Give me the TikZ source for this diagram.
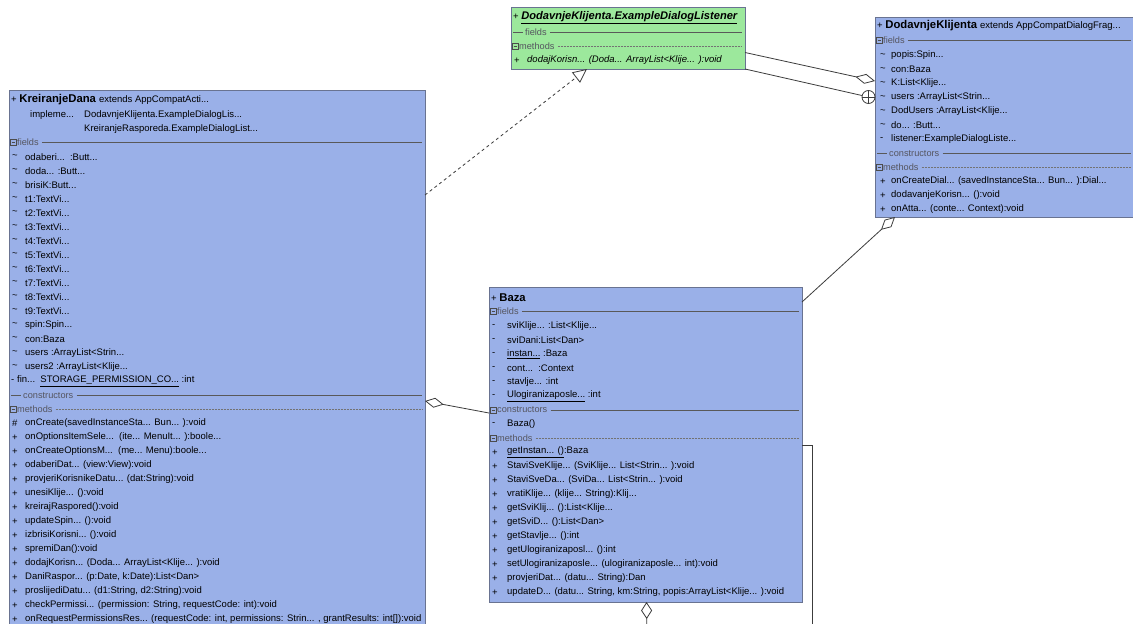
\documentclass[tikz,border=0pt]{standalone}
\usepackage{fontspec}
\setmainfont{Liberation Sans}
\usetikzlibrary{arrows.meta}
\definecolor{umlblue}{RGB}{154,176,232}
\definecolor{umlgreen}{RGB}{156,232,156}
\definecolor{umledge}{RGB}{105,115,145}
\definecolor{hdrgray}{RGB}{85,85,95}
\definecolor{linegray}{RGB}{60,60,60}
\newcommand\sm{\fontsize{9.5}{11}\selectfont}
\newcommand\tl{\fontsize{11.3}{13}\selectfont\bfseries}
\newcommand\dd{...}
\tikzset{
 umlbox/.style={draw=umledge, line width=0.8pt, fill=umlblue, anchor=north west, inner sep=0pt, outer sep=0pt},
 row/.style={anchor=west, inner sep=0pt, font=\sm, text=black},
 hdr/.style={anchor=west, inner sep=0pt, font=\fontsize{9.2}{10}\selectfont, text=hdrgray},
 sepline/.style={draw=black!65, line width=0.6pt},
 sepdots/.style={draw=black!55, line width=0.6pt, dash pattern=on 0.6pt off 0.9pt},
 conn/.style={draw=linegray, line width=0.8pt},
 agg/.style={conn, {Diamond[open, length=19pt, width=10pt]}-},
}
\newcommand\secbox[6]{%
  \draw[draw=black!70, line width=0.5pt] (#2+1,#4-3) rectangle (#2+7,#4+3) (#2+2.5,#4) -- (#2+5.5,#4);
  \node[hdr] (#1) at (#2+8,#4) {#5};
  \draw[#6] ([xshift=3pt]#1.east) -- (#3-3,#4);}
\newcommand\secdash[6]{%
  \draw[sepline] (#2+2,#4) -- (#2+12,#4);
  \node[hdr] (#1) at (#2+14,#4) {#5};
  \draw[#6] ([xshift=3pt]#1.east) -- (#3-3,#4);}
\newcommand\umlrows[5]{%
  \foreach \m/\t [count=\i from 0] in {#5}{%
    \node[row] (#1m\i) at (#2,{#4+14*\i}) {\m};
    \node[row] (#1t\i) at (#3,{#4+14*\i}) {\t};}}
\begin{document}
\begin{tikzpicture}[x=1pt,y=-1pt]
\clip (0,0) rectangle (1133,624);
\fill[white] (0,0) rectangle (1133,624);

% ---------------- KreiranjeDana
\node[umlbox, minimum width=416pt, minimum height=570pt] (kd) at (9,90) {};
\node[anchor=west, inner sep=0pt] (kdtitle) at (11,100) {\sm + \tl KreiranjeDana \sm\mdseries extends AppCompatActi\dd};
\node[row] (kdimp) at (30,115) {impleme\dd};
\node[row] (kdi1) at (84,115) {DodavnjeKlijenta.ExampleDialogLis\dd};
\node[row] (kdi2) at (84,129) {KreiranjeRasporeda.ExampleDialogList\dd};
\secbox{kdfields}{9}{425}{142.5}{fields}{sepline}
\umlrows{kdf}{12}{25}{157}{{\textasciitilde/odaberi\dd{}\ \ :Butt\dd},{\textasciitilde/doda\dd{} :Butt\dd},{\textasciitilde/brisiK:Butt\dd},{\textasciitilde/t1:TextVi\dd},{\textasciitilde/t2:TextVi\dd},{\textasciitilde/t3:TextVi\dd},{\textasciitilde/t4:TextVi\dd},{\textasciitilde/t5:TextVi\dd},{\textasciitilde/t6:TextVi\dd},{\textasciitilde/t7:TextVi\dd},{\textasciitilde/t8:TextVi\dd},{\textasciitilde/t9:TextVi\dd},{\textasciitilde/spin:Spin\dd},{\textasciitilde/con:Baza},{\textasciitilde/users :ArrayList<Strin\dd},{\textasciitilde/users2 :ArrayList<Klije\dd}}
\node[row] (kdfinm) at (11,381) {-};
\node[row] (kdfin) at (17,381) {fin\dd\ \ \underline{STORAGE\_PERMISSION\_CO\dd}\ :int};
\secdash{kdcons}{9}{425}{395.5}{constructors}{sepline}
\secbox{kdmeth}{9}{425}{409.5}{methods}{sepdots}
\umlrows{kdm}{12}{25}{423.5}{{\#/onCreate(savedInstanceSta\dd{} Bun\dd{} ):void},{+/onOptionsItemSele\dd\ \ (ite\dd{} MenuIt\dd{} ):boole\dd},{+/onCreateOptionsM\dd\ \ (me\dd{} Menu):boole\dd},{+/odaberiDat\dd{} (view:View):void},{+/provjeriKorisnikeDatu\dd{} (dat:String):void},{+/unesiKlije\dd{} ():void},{+/kreirajRaspored():void},{+/updateSpin\dd{} ():void},{+/izbrisiKorisni\dd{} ():void},{+/spremiDan():void},{+/dodajKorisn\dd{} (Doda\dd{} ArrayList<Klije\dd{} ):void},{+/DaniRaspor\dd{} (p:Date, k:Date):List<Dan>},{+/proslijediDatu\dd{} (d1:String, d2:String):void},{+/checkPermissi\dd{} (permission: String, requestCode: int):void},{+/onRequestPermissionsRes\dd{} (requestCode: int, permissions: Strin\dd{} , grantResults: int[]):void}}

% ---------------- ExampleDialogListener (green)
\node[umlbox, fill=umlgreen, minimum width=234pt, minimum height=62pt] (dl) at (511,7) {};
\node[anchor=west, inner sep=0pt] (dltitle) at (513,17.5) {\sm + \fontsize{11.1}{13}\selectfont\bfseries\itshape\underline{DodavnjeKlijenta.ExampleDialogListener}};
\secdash{dlfields}{511}{745}{32}{fields}{sepline}
\secbox{dlmeth}{511}{745}{46}{methods}{sepdots}
\node[row] (dlm0) at (514,60.5) {+};
\node[row, font=\sm\itshape] (dlt0) at (527,60.5) {dodajKorisn\dd{} (Doda\dd{} ArrayList<Klije\dd{} ):void};

% ---------------- DodavnjeKlijenta
\node[umlbox, minimum width=259pt, minimum height=200pt] (dk) at (875,17) {};
\node[anchor=west, inner sep=0pt] (dktitle) at (877,25.5) {\sm + \tl DodavnjeKlijenta \sm\mdseries extends AppCompatDialogFrag\dd};
\secbox{dkfields}{875}{1134}{40.5}{fields}{sepline}
\umlrows{dkf}{880}{891}{55.5}{{\textasciitilde/popis:Spin\dd},{\textasciitilde/con:Baza},{\textasciitilde/K:List<Klije\dd},{\textasciitilde/users :ArrayList<Strin\dd},{\textasciitilde/DodUsers :ArrayList<Klije\dd},{\textasciitilde/do\dd{} :Butt\dd},{-/listener:ExampleDialogListe\dd}}
\secdash{dkcons}{875}{1134}{153.5}{constructors}{sepline}
\secbox{dkmeth}{875}{1134}{167.5}{methods}{sepdots}
\umlrows{dkm}{880}{891}{181.5}{{+/onCreateDial\dd{} (savedInstanceSta\dd{} Bun\dd{} ):Dial\dd},{+/dodavanjeKorisn\dd{} ():void},{+/onAtta\dd{} (conte\dd{} Context):void}}

% ---------------- Baza
\node[umlbox, minimum width=313pt, minimum height=315pt] (baza) at (489,287) {};
\node[anchor=west, inner sep=0pt] (bazatitle) at (491,297.5) {\sm + \tl Baza};
\secbox{bzfields}{489}{802}{311.5}{fields}{sepline}
\umlrows{bzf}{492}{507}{326}{{-/sviKlije\dd{} :List<Klije\dd},{-/sviDani:List<Dan>},{-/\underline{instan\dd} :Baza},{-/cont\dd\ \ :Context},{-/stavlje\dd{} :int},{-/\underline{Ulogiranizaposle\dd} :int}}
\secbox{bzcons}{489}{802}{410}{constructors}{sepline}
\node[row] (bzcm) at (492,424) {-};
\node[row] (bzct) at (507,424) {Baza()};
\secbox{bzmeth}{489}{802}{438}{methods}{sepdots}
\umlrows{bzm}{492}{507}{452.5}{{+/\underline{getInstan\dd{} ()}:Baza},{+/StaviSveKlije\dd{} (SviKlije\dd{} List<Strin\dd{} ):void},{+/StaviSveDa\dd{} (SviDa\dd{} List<Strin\dd{} ):void},{+/vratiKlije\dd{} (klije\dd{} String):Klij\dd},{+/getSviKlij\dd{} ():List<Klije\dd},{+/getSviD\dd{} ():List<Dan>},{+/getStavlje\dd{} ():int},{+/getUlogiranizaposl\dd{} ():int},{+/setUlogiranizaposle\dd{} (ulogiranizaposle\dd{} int):void},{+/provjeriDat\dd{} (datu\dd{} String):Dan},{+/updateD\dd{} (datu\dd{} String, km:String, popis:ArrayList<Klije\dd{} ):void}}

% ---------------- connectors
\draw[conn, dashed, -{Triangle[open, length=14pt, width=13pt]}] ([yshift=-105pt]kd.north east) -- ([xshift=-41pt]dl.south);
\draw[conn, -{Diamond[open, length=20pt, width=10pt]}] ([yshift=-45.5pt]dl.north east) -- ([yshift=-64pt]dk.north west);
\node[circle, draw=linegray, line width=0.8pt, fill=white, minimum size=13pt, inner sep=0pt] (nest) at (868.5,97) {};
\draw[conn] (nest.north) -- (nest.south) (nest.west) -- (nest.east);
\draw[conn] (dl.south east) -- (nest);
\draw[agg] ([xshift=20pt]dk.south west) -- ([yshift=-15pt]baza.north east);
\draw[agg] ([yshift=-311pt]kd.north east) -- ([yshift=-126pt]baza.north west);
\coordinate (bzdown) at (647,640);
\draw[conn, {Diamond[open, length=17pt, width=11pt]}-] ([xshift=1pt]baza.south) -- (bzdown);
\coordinate (bzright) at (812,640);
\draw[conn] ([yshift=-158pt]baza.north east) -| (bzright);
\end{tikzpicture}
\end{document}
